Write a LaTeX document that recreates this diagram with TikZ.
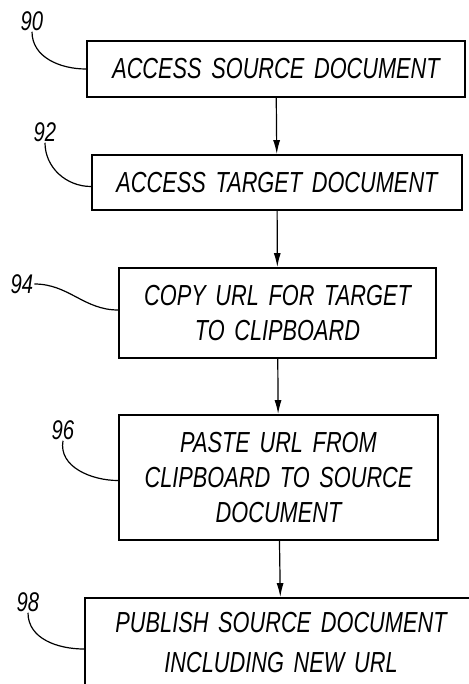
\documentclass[tikz,border=0pt]{standalone}
\usepackage{fontspec}
\setmainfont[FakeStretch=0.75,WordSpace=1.6]{Liberation Sans}
\usetikzlibrary{positioning,arrows.meta}

\begin{document}
\begin{tikzpicture}[x=1pt,y=-1pt,
			box/.style={draw,rectangle,line width=1.9pt,align=center,inner sep=0pt,
				font=\itshape\fontsize{29}{35}\selectfont},
			refnum/.style={inner sep=1pt,font=\itshape\fontsize{27}{27}\selectfont},
			lead/.style={line width=1.2pt},
			flow/.style={line width=1.2pt,-{Latex[length=14pt,width=7pt]}}]
			\useasboundingbox (0,0) rectangle (468,684);
			% steps
			\node (acsrc) [box,minimum width=378pt,minimum height=56pt] at (276,69) {ACCESS SOURCE DOCUMENT};
			\node (actgt) [box,minimum width=370pt,minimum height=55pt] at (277,182.5) {ACCESS TARGET DOCUMENT};
			\node (cpurl) [box,minimum width=317pt,minimum height=90pt] at (277.5,313) {COPY URL FOR TARGET\\TO CLIPBOARD};
			\node (psurl) [box,minimum width=319pt,minimum height=125pt] at (278.5,477.5) {PASTE URL FROM\\CLIPBOARD TO SOURCE\\DOCUMENT};
			\node (pubsrc) [box,minimum width=392pt,minimum height=90pt,
				font=\itshape\fontsize{29}{40}\selectfont] at (281,643) {PUBLISH SOURCE DOCUMENT\\INCLUDING NEW URL};
			% reference numerals
			\node (n90) [refnum] at (32,21) {90};
			\node (n92) [refnum] at (45,132) {92};
			\node (n94) [refnum] at (22,284) {94};
			\node (n96) [refnum] at (63,430) {96};
			\node (n98) [refnum] at (28,602) {98};
			\draw [lead] (n90.south) to[out=-90,in=180] (acsrc.west);
			\draw [lead] (n92.south) to[out=-90,in=180] ([yshift=-4pt]actgt.west);
			\draw [lead] (n94.east) to[out=0,in=180] ([yshift=3pt]cpurl.west);
			\draw [lead] (n96.south) to[out=-100,in=180] ([yshift=-3pt]psurl.west);
			\draw [lead] (n98.south) to[out=-90,in=180] ([yshift=-6pt]pubsrc.west);
			% flow
			\draw [flow] (acsrc) -- (actgt);
			\draw [flow] (actgt) -- (cpurl);
			\draw [flow] (cpurl) -- (psurl);
			\draw [flow] (psurl) -- (pubsrc);
		\end{tikzpicture}
\end{document}
